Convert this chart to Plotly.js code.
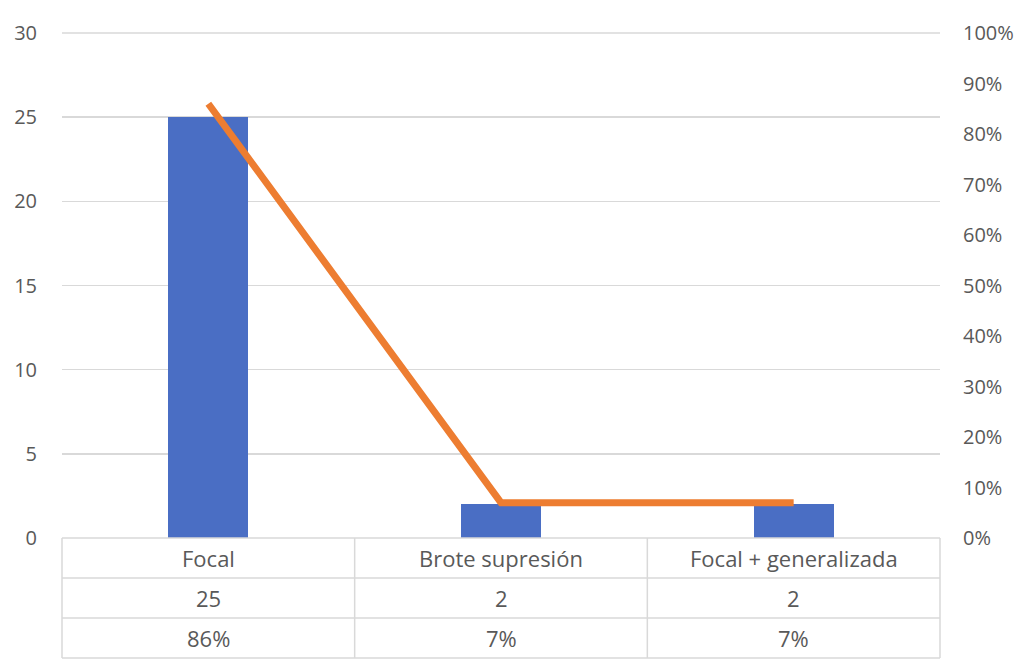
<!DOCTYPE html>
<html>
<head>
<meta charset="utf-8">
<script src="https://cdn.plot.ly/plotly-3.0.1.min.js"></script>
<style>html,body{margin:0;padding:0;background:#fff;}#chart{width:1031px;height:666px;}</style>
</head>
<body>
<div id="chart"></div>
<script>
const categories = ["Focal", "Brote supresión", "Focal + generalizada"];
const counts = [25, 2, 2];
const percents = [0.86, 0.07, 0.07];
const percentLabels = ["86%", "7%", "7%"];

const FONT = "'Open Sans', 'Noto Sans', sans-serif";
const TXT = "#595959";
const GRID = "#d9d9d9";

const xs = categories.map((c, i) => i);

const traces = [
  {
    type: "bar",
    x: xs,
    y: counts,
    width: 0.273,
    marker: { color: "#4a6ec4", line: { width: 0 } },
    hoverinfo: "skip"
  },
  {
    type: "scatter",
    mode: "lines",
    x: xs,
    y: percents,
    yaxis: "y2",
    line: { color: "#ed7d31", width: 7 },
    hoverinfo: "skip"
  }
];

// table geometry in paper coords (plot height 505 px)
const H = 505;
const rowH = 40 / H;
const shapes = [];
const annotations = [];
const n = categories.length;
// top gridline (value 30)
shapes.push({ type: "line", xref: "paper", yref: "paper", x0: 0, x1: 1, y0: 1, y1: 1, line: { color: GRID, width: 1.5 }, layer: "below" });
// horizontal table lines
for (let r = 0; r <= 3; r++) {
  shapes.push({ type: "line", xref: "paper", yref: "paper", x0: 0, x1: 1, y0: -r * rowH, y1: -r * rowH, line: { color: GRID, width: 1.5 } });
}
// vertical table lines
for (let c = 0; c <= n; c++) {
  shapes.push({ type: "line", xref: "paper", yref: "paper", x0: c / n, x1: c / n, y0: 0, y1: -3 * rowH, line: { color: GRID, width: 1.5 } });
}
const rows = [categories, counts.map(String), percentLabels];
rows.forEach((row, r) => {
  row.forEach((t, c) => {
    annotations.push({
      xref: "paper", yref: "paper",
      x: (c + 0.5) / n, y: -(r + 0.5) * rowH,
      text: t, showarrow: false,
      xanchor: "center", yanchor: "middle",
      font: { family: FONT, size: 22, color: TXT }
    });
  });
});

const layout = {
  width: 1031, height: 666,
  margin: { l: 62, r: 91, t: 33, b: 128 },
  paper_bgcolor: "#fff", plot_bgcolor: "#fff",
  showlegend: false,
  bargap: 0,
  xaxis: {
    range: [-0.5, 2.5], showticklabels: false, showgrid: false, zeroline: false,
    showline: false, ticks: "", fixedrange: true
  },
  yaxis: {
    range: [0, 30], dtick: 5, showgrid: true, gridcolor: GRID, gridwidth: 1.5,
    zeroline: false, showline: false, ticks: "", ticklabelstandoff: 24,
    tickfont: { family: FONT, size: 20, color: TXT }
  },
  yaxis2: {
    range: [0, 1], dtick: 0.1, tickformat: ".0%", overlaying: "y", side: "right",
    showgrid: false, zeroline: false, showline: false, ticks: "", ticklabelstandoff: 22,
    tickfont: { family: FONT, size: 20, color: TXT }
  },
  shapes: shapes,
  annotations: annotations
};

Plotly.newPlot("chart", traces, layout, { staticPlot: true, displayModeBar: false });
</script>
</body>
</html>
